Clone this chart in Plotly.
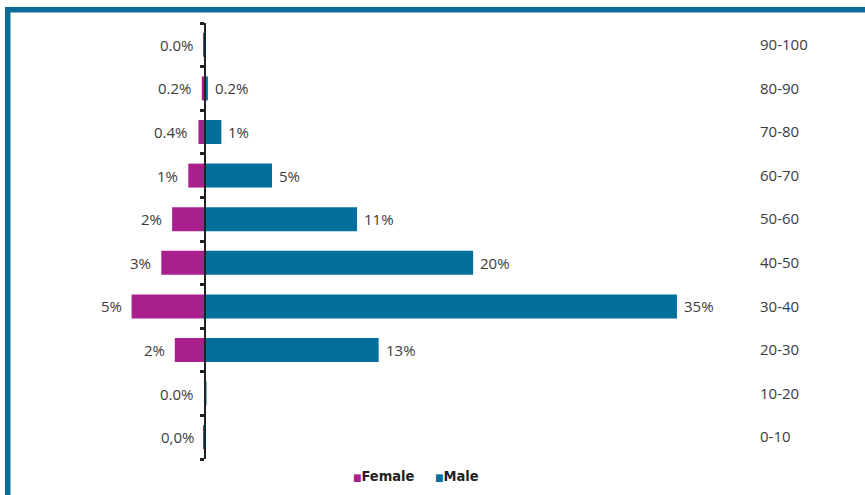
import plotly.graph_objects as go

# Age groups, bottom to top
age_groups = ["0-10", "10-20", "20-30", "30-40", "40-50", "50-60", "60-70", "70-80", "80-90", "90-100"]

# Share of cases (%) by sex
female_pct = [0.05, 0.03, 2.2, 5.4, 3.2, 2.4, 1.2, 0.45, 0.2, 0.05]
male_pct = [0.0, 0.15, 12.9, 35.0, 19.9, 11.3, 5.0, 1.25, 0.25, 0.1]

# Printed labels
female_labels = ["0,0%", "0.0%", "2%", "5%", "3%", "2%", "1%", "0.4%", "0.2%", "0.0%"]
male_labels = ["", "", "13%", "35%", "20%", "11%", "5%", "1%", "0.2%", ""]

FEMALE_COLOR = "#A91F8C"
MALE_COLOR = "#036F9B"
FRAME_COLOR = "#0B6C97"
TEXT_COLOR = "#3C3C3C"
LABEL_FONT = dict(family="Open Sans", size=15, color=TEXT_COLOR)
KEY_FONT = dict(family="DejaVu Sans Condensed", size=14.5, color="#222222", weight="bold")

W, H = 865, 495
ML, MR, MT, MB = 12, 110, 23, 36
PW, PH = W - ML - MR, H - MT - MB
PX_PER_PCT = 13.5
X_MIN = -(204.5 - ML) / PX_PER_PCT
X_MAX = X_MIN + PW / PX_PER_PCT


def px_x(p):
    return (p - ML) / PW


def px_y(p):
    return (H - MB - p) / PH


zero_pos = (0 - X_MIN) / (X_MAX - X_MIN)

fig = go.Figure()
fig.add_trace(go.Bar(
    y=age_groups, x=[-v for v in female_pct], orientation="h", name="Female",
    marker=dict(color=FEMALE_COLOR, line=dict(width=0)), hoverinfo="skip",
))
fig.add_trace(go.Bar(
    y=age_groups, x=male_pct, orientation="h", name="Male",
    marker=dict(color=MALE_COLOR, line=dict(width=0)), hoverinfo="skip",
))
# Carrier for the age-group labels on the right-hand axis
fig.add_trace(go.Scatter(
    x=[0] * len(age_groups), y=list(range(len(age_groups))), yaxis="y2",
    mode="markers", marker=dict(opacity=0), showlegend=False, hoverinfo="skip",
))

# Value labels next to the bar ends
for cat, v, lab in zip(age_groups, female_pct, female_labels):
    if lab:
        fig.add_annotation(x=-v, y=cat, xref="x", yref="y", text=lab, showarrow=False,
                           xanchor="right", xshift=-8, font=LABEL_FONT)
for cat, v, lab in zip(age_groups, male_pct, male_labels):
    if lab:
        fig.add_annotation(x=v, y=cat, xref="x", yref="y", text=lab, showarrow=False,
                           xanchor="left", xshift=5, font=LABEL_FONT)

# Compact key below the chart: small colour square followed by the series name
for trace, key_x in zip(fig.data[:2], (351, 433)):
    fig.add_annotation(
        xref="paper", yref="paper", x=px_x(key_x), y=px_y(476),
        xanchor="left", yanchor="middle", showarrow=False, font=KEY_FONT,
        text=f'<span style="font-size:10px;color:{trace.marker.color}">■</span>{trace.name}',
    )

fig.update_layout(
    width=W, height=H,
    margin=dict(l=ML, r=MR, t=MT, b=MB, pad=0, autoexpand=False),
    paper_bgcolor="white", plot_bgcolor="white",
    barmode="relative", bargap=0.45,
    showlegend=False,
    xaxis=dict(range=[X_MIN, X_MAX], visible=False, fixedrange=True),
    yaxis=dict(
        type="category", categoryorder="array", categoryarray=age_groups,
        range=[-0.5, len(age_groups) - 0.5],
        anchor="free", position=zero_pos, side="left",
        tickson="boundaries", ticks="outside", ticklen=4, tickwidth=3, tickcolor="#222222",
        showticklabels=False, showgrid=False, zeroline=False,
        showline=True, linecolor="#222222", linewidth=2,
    ),
    yaxis2=dict(
        overlaying="y", anchor="x", side="right",
        range=[-0.5, len(age_groups) - 0.5],
        tickmode="array", tickvals=list(range(len(age_groups))), ticktext=age_groups,
        ticks="outside", ticklen=1, tickcolor="rgba(0,0,0,0)",
        showgrid=False, zeroline=False, showline=False,
        tickfont=LABEL_FONT,
    ),
)

# Frame along the top and left edges of the figure
fig.add_shape(type="rect", xref="paper", yref="paper",
              x0=px_x(5), x1=px_x(W + 5), y0=px_y(12.5), y1=px_y(7),
              fillcolor=FRAME_COLOR, line=dict(width=0), layer="above")
fig.add_shape(type="rect", xref="paper", yref="paper",
              x0=px_x(5), x1=px_x(10.5), y0=px_y(H + 5), y1=px_y(7),
              fillcolor=FRAME_COLOR, line=dict(width=0), layer="above")

fig.write_html("out.html")
